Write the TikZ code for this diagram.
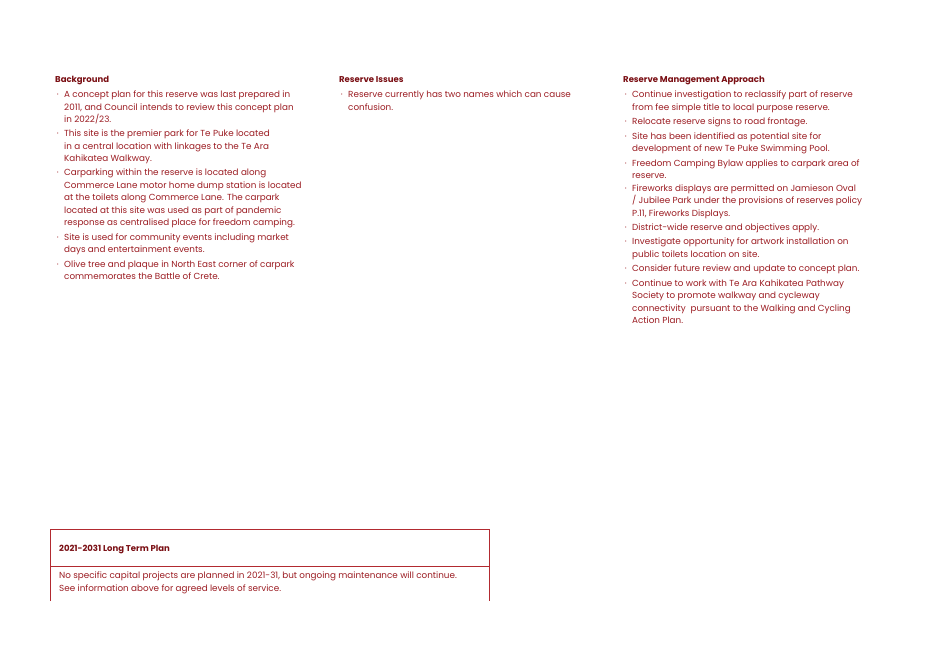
\documentclass[tikz,border=0pt]{standalone}
\usepackage{fontspec}
\setmainfont{Poppins}
\usetikzlibrary{positioning}
\definecolor{plantext}{HTML}{9B1C22}
\definecolor{planhead}{HTML}{7A0F14}
\definecolor{planline}{HTML}{B22A30}
\newcommand{\planbullet}{\llap{·\hspace{5.5pt}}}

\begin{document}
\begin{tikzpicture}[x=1pt, y=-1pt,
	head/.style = {anchor=base west, inner sep=0, font=\fontsize{8.5}{12}\selectfont\bfseries, text=planhead},
	item/.style = {anchor=north west, inner sep=0, align=left, text=plantext, font=\fontsize{8.8}{12.5}\selectfont},
	gap/.style = {below=5pt of #1.south west, anchor=north west}]
	\useasboundingbox (0,0) rectangle (939,664);
	
	% Background
	\node[head] (bg) at (55,82) {Background};
	\node[item] (b1) at (64,91) {\planbullet A concept plan for this reserve was last prepared in\\2011, and Council intends to review this concept plan\\in 2022/23.};
	\node[item, gap=b1] (b2) {\planbullet This site is the premier park for Te Puke located\\in a central location with linkages to the Te Ara\\Kahikatea Walkway.};
	\node[item, gap=b2] (b3) {\planbullet Carparking within the reserve is located along\\Commerce Lane motor home dump station is located\\at the toilets along Commerce Lane. The carpark\\located at this site was used as part of pandemic\\response as centralised place for freedom camping.};
	\node[item, gap=b3] (b4) {\planbullet Site is used for community events including market\\days and entertainment events.};
	\node[item, gap=b4] (b5) {\planbullet Olive tree and plaque in North East corner of carpark\\commemorates the Battle of Crete.};
	
	% Reserve Issues
	\node[head] (ri) at (339,82) {Reserve Issues};
	\node[item] (i1) at (348,91) {\planbullet Reserve currently has two names which can cause\\confusion.};
	
	% Reserve Management Approach
	\node[head] (rm) at (623,82) {Reserve Management Approach};
	\node[item] (m1) at (632,91) {\planbullet Continue investigation to reclassify part of reserve\\from fee simple title to local purpose reserve.};
	\node[item, gap=m1] (m2) {\planbullet Relocate reserve signs to road frontage.};
	\node[item, gap=m2] (m3) {\planbullet Site has been identified as potential site for\\development of new Te Puke Swimming Pool.};
	\node[item, gap=m3] (m4) {\planbullet Freedom Camping Bylaw applies to carpark area of\\reserve.};
	\node[item, gap=m4] (m5) {\planbullet Fireworks displays are permitted on Jamieson Oval\\/ Jubilee Park under the provisions of reserves policy\\P.11, Fireworks Displays.};
	\node[item, gap=m5] (m6) {\planbullet District-wide reserve and objectives apply.};
	\node[item, gap=m6] (m7) {\planbullet Investigate opportunity for artwork installation on\\public toilets location on site.};
	\node[item, gap=m7] (m8) {\planbullet Consider future review and update to concept plan.};
	\node[item, gap=m8] (m9) {\planbullet Continue to work with Te Ara Kahikatea Pathway\\Society to promote walkway and cycleway\\connectivity\ \ pursuant to the Walking and Cycling\\Action Plan.};
	
	% Long Term Plan box
	\coordinate (tl) at (50,529);
	\coordinate (tr) at (489,529);
	\coordinate (ml) at (50,566);
	\coordinate (mr) at (489,566);
	\coordinate (bl) at (50,601);
	\coordinate (br) at (489,601);
	\draw[planline, line width=0.8pt] (bl) -- (tl) -- (tr) -- (br);
	\draw[planline, line width=0.8pt] (ml) -- (mr);
	\node[head] (ltp) at (59,551) {2021-2031 Long Term Plan};
	\node[item] (ltpbody) at (59,572)
		{No specific capital projects are planned in 2021-31, but ongoing maintenance will continue.\\See information above for agreed levels of service.};
\end{tikzpicture}
\end{document}
